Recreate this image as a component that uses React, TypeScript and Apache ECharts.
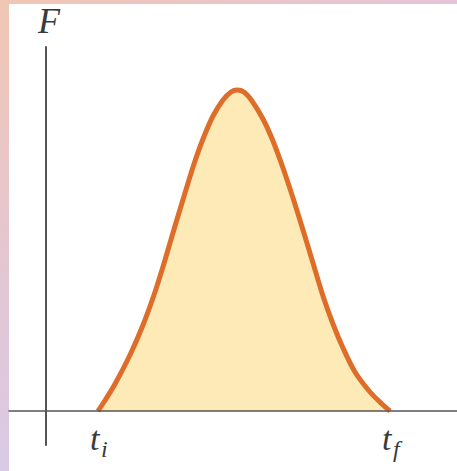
import React, { useEffect, useRef } from "react";
import * as echarts from "echarts";

// time (arbitrary units) and force (arbitrary units)
const tValues = [5.2, 5.8, 6.9, 8.4, 9.7, 10.9, 11.9, 12.9, 13.9, 14.8, 15.7, 16.7, 17.7, 18.5, 19.1, 19.8, 20.6, 21.7, 22.7, 23.7, 24.7, 25.7, 26.7, 27.7, 28.7, 29.7, 30.9, 32.4, 33.6, 34.4];
const fValues = [0, 0.9, 2.7, 5.6, 8.6, 11.9, 15.1, 18.5, 21.8, 24.7, 27.2, 29.5, 31.1, 31.9, 32.1, 31.9, 31.0, 29.2, 27.0, 24.3, 21.3, 18.1, 14.8, 11.5, 8.7, 6.3, 3.9, 1.9, 0.7, 0];
const tickValues = [5.2, 34.4];
const tickMain = "t";
const tickSubscripts = ["i", "f"];
const yAxisName = "F";

const serif = "Liberation Serif";
const textColor = "#3a3a3a";

export default function App() {
  const ref = useRef<HTMLDivElement>(null);
  useEffect(() => {
    const chart = echarts.init(ref.current!, null, { renderer: "svg" });
    const data = tValues.map((t, i) => [t, fValues[i]]);
    const frame = [
      {
        type: "rect",
        shape: { x: 0, y: 0, width: 9, height: 471 },
        style: {
          fill: new echarts.graphic.LinearGradient(0, 0, 0, 1, [
            { offset: 0, color: "#f1c6b4" },
            { offset: 0.5, color: "#e6c6cf" },
            { offset: 1, color: "#d9cae6" },
          ]),
        },
        silent: true,
      },
      {
        type: "rect",
        shape: { x: 0, y: 0, width: 457, height: 4 },
        style: {
          fill: new echarts.graphic.LinearGradient(0, 0, 1, 0, [
            { offset: 0, color: "#f1c6b4" },
            { offset: 1, color: "#e4c4d9" },
          ]),
        },
        silent: true,
      },
    ];
    chart.setOption({
      animation: false,
      backgroundColor: "#ffffff",
      graphic: frame,
      grid: { left: 9, right: 0, top: 47, bottom: 26, containLabel: false, outerBoundsMode: "none" },
      xAxis: {
        type: "value",
        min: -3.7,
        max: 41.1,
        z: 5,
        axisLine: { onZero: true, lineStyle: { color: "#555555", width: 1.5 } },
        axisTick: { show: false },
        splitLine: { show: false },
        axisLabel: { show: false },
      },
      yAxis: {
        type: "value",
        min: -3.4,
        max: 36.4,
        z: 5,
        name: yAxisName,
        nameLocation: "end",
        nameGap: 8,
        nameTextStyle: { fontFamily: serif, fontStyle: "italic", fontSize: 36, color: textColor, align: "center", padding: [0, 0, 0, 6] },
        axisLine: { onZero: true, lineStyle: { color: "#555555", width: 2 } },
        axisTick: { show: false },
        splitLine: { show: false },
        axisLabel: { show: false },
      },
      series: [
        {
          type: "line",
          data,
          smooth: 0.3,
          symbol: "none",
          z: 2,
          lineStyle: { color: "#df6d2a", width: 5 },
          areaStyle: { color: "#fdeab7", opacity: 1 },
        },
      ],
    });

    // tick labels placed through the axis scale
    const axisY = chart.convertToPixel({ yAxisIndex: 0 }, 0) as number;
    const labels: any[] = [];
    tickValues.forEach((v, i) => {
      const px = chart.convertToPixel({ xAxisIndex: 0 }, v) as number;
      labels.push({
        type: "text",
        x: px - 8,
        y: axisY + 27,
        style: { text: tickMain, fontFamily: serif, fontStyle: "italic", fontSize: 34, fill: textColor, align: "left", verticalAlign: "middle" },
        silent: true,
      });
      labels.push({
        type: "text",
        x: px + 3,
        y: axisY + 38,
        style: { text: tickSubscripts[i], fontFamily: serif, fontStyle: "italic", fontSize: 24, fill: textColor, align: "left", verticalAlign: "middle" },
        silent: true,
      });
    });
    chart.setOption({ graphic: [...frame, ...labels] });
    return () => chart.dispose();
  }, []);
  return <div ref={ref} style={{ position: "fixed", left: 0, top: 0, width: 457, height: 471 }} />;
}
